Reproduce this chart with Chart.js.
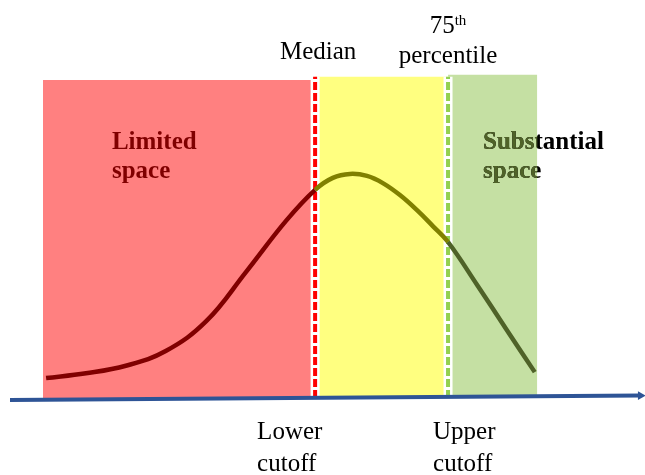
<!DOCTYPE html>
<html>
<head>
<meta charset="utf-8">
<script src="https://cdn.jsdelivr.net/npm/chart.js@4/dist/chart.umd.min.js"></script>
<style>
	html, body { margin: 0; padding: 0; background: #fff; }
	canvas { display: block; }
</style>
</head>
<body>
<canvas id="chart1" width="645" height="475"></canvas>
<script>
// cutoffs on the score axis: median and 75th percentile
var cutoffX = [48.2, 69.2];
var cutoffTop = 80.7;

// shaded zones: limited / middle / substantial space
var zoneStart = [5.2, 48.2, 69.2];
var zoneEnd = [48.2, 69.2, 83.3];
var zoneTop = [79.9, 80.7, 81.2];
var zoneColors = ['#ff8080', '#ffff80', '#c5e0a3'];

// density curve
var curveX = [5.7, 12.0, 18.3, 24.6, 31.0, 37.3, 43.6, 48.2, 51.0, 53.7, 56.4, 58.9, 61.6,
	64.3, 66.8, 69.2, 73.8, 78.4, 82.9];
var curveY = [5.0, 6.2, 8.1, 11.8, 19.3, 31.7, 44.5, 52.3, 55.3, 56.3, 55.8, 54.0, 51.0,
	47.2, 43.2, 39.2, 28.4, 17.3, 6.5];
var curveColors = ['#800000', '#808000', '#4f6228'];

// horizontal axis, drawn as a slightly tilted arrow
var axisX = [0, 99.6];
var axisY = [-0.5, 0.6];

var serif = '"Liberation Serif", "Times New Roman", serif';

function zoneOf(v) {
	if (v < cutoffX[0]) return 0;
	if (v < cutoffX[1]) return 1;
	return 2;
}

var datasets = [];

datasets.push({
	label: 'axis',
	data: axisX.map(function(x, i) { return {x: x, y: axisY[i]}; }),
	borderColor: '#2e5496',
	borderWidth: 4,
	pointRadius: [0, 5],
	pointStyle: 'triangle',
	rotation: 90,
	pointBackgroundColor: '#2e5496',
	pointBorderWidth: 0,
	clip: false,
	order: 0
});

datasets.push({
	label: 'curve',
	data: curveX.map(function(x, i) { return {x: x, y: curveY[i]}; }),
	borderWidth: 4.5,
	borderColor: curveColors[0],
	tension: 0.4,
	pointRadius: 0,
	segment: {
		borderColor: function(ctx) { return curveColors[zoneOf(ctx.p0.parsed.x + 0.01)]; }
	},
	order: 1
});

['#ff0000', '#92d050'].forEach(function(col, i) {
	var pts = [{x: cutoffX[i], y: 0}, {x: cutoffX[i], y: cutoffTop}];
	datasets.push({
		label: 'cutoff dash ' + i,
		data: pts,
		borderColor: col,
		borderWidth: 4,
		borderDash: [8, 3],
		borderCapStyle: 'butt',
		pointRadius: 0,
		order: 3
	});
	datasets.push({
		label: 'cutoff gap ' + i,
		data: pts,
		borderColor: '#ffffff',
		borderWidth: 9,
		pointRadius: 0,
		order: 4
	});
});

zoneStart.forEach(function(x0, i) {
	datasets.push({
		label: 'zone ' + i,
		data: [{x: x0, y: zoneTop[i]}, {x: zoneEnd[i], y: zoneTop[i]}],
		borderWidth: 0,
		pointRadius: 0,
		fill: 'origin',
		backgroundColor: zoneColors[i],
		order: 10 + i
	});
});

var textPlugin = {
	id: 'labels',
	afterDatasetsDraw: function(chart) {
		var ctx = chart.ctx;
		var xs = chart.scales.x;
		var mx = xs.getPixelForValue(cutoffX[0]);
		var px = xs.getPixelForValue(cutoffX[1]);
		ctx.save();
		ctx.textBaseline = 'alphabetic';
		ctx.fillStyle = '#000';

		ctx.font = '25px ' + serif;
		ctx.textAlign = 'center';
		ctx.fillText('Median', mx + 3, 59);
		ctx.fillText('percentile', px, 63);

		// 75th with superscript
		ctx.textAlign = 'left';
		var w75 = ctx.measureText('75').width;
		ctx.font = '15px ' + serif;
		var wth = ctx.measureText('th').width;
		var sx = px - (w75 + wth) / 2;
		ctx.font = '25px ' + serif;
		ctx.fillText('75', sx, 33);
		ctx.font = '15px ' + serif;
		ctx.fillText('th', sx + w75, 25);

		// cutoff captions under the axis
		ctx.font = '25px ' + serif;
		ctx.fillText('Lower', mx - 58, 439);
		ctx.fillText('cutoff', mx - 58, 471);
		ctx.fillText('Upper', px - 15, 439);
		ctx.fillText('cutoff', px - 15, 471);

		// zone captions
		ctx.font = 'bold 25px ' + serif;
		ctx.fillStyle = '#800000';
		var lx = xs.getPixelForValue(zoneStart[0]) + 69;
		ctx.fillText('Limited', lx, 149);
		ctx.fillText('space', lx, 178);

		// the right caption runs past its zone: green inside, black outside
		var gx0 = xs.getPixelForValue(zoneStart[2]);
		var gx1 = xs.getPixelForValue(zoneEnd[2]);
		var sx2 = gx0 + 35;
		ctx.fillStyle = '#000';
		ctx.fillText('Substantial', sx2, 149);
		ctx.fillText('space', sx2, 178);
		ctx.beginPath();
		ctx.rect(gx0, 0, gx1 - gx0, chart.height);
		ctx.clip();
		ctx.fillStyle = '#4f6228';
		ctx.fillText('Substantial', sx2, 149);
		ctx.fillText('space', sx2, 178);
		ctx.restore();
	}
};

var ctx = document.getElementById('chart1').getContext('2d');
new Chart(ctx, {
	type: 'scatter',
	data: { datasets: datasets },
	options: {
		responsive: false,
		animation: false,
		showLine: true,
		layout: { autoPadding: false, padding: { left: 10, right: 2, top: 0, bottom: 77 } },
		scales: {
			x: { type: 'linear', min: 0, max: 100, display: false },
			y: { type: 'linear', min: 0, max: 100, display: false }
		},
		plugins: {
			legend: { display: false },
			tooltip: { enabled: false }
		}
	},
	plugins: [textPlugin]
});
</script>
</body>
</html>
